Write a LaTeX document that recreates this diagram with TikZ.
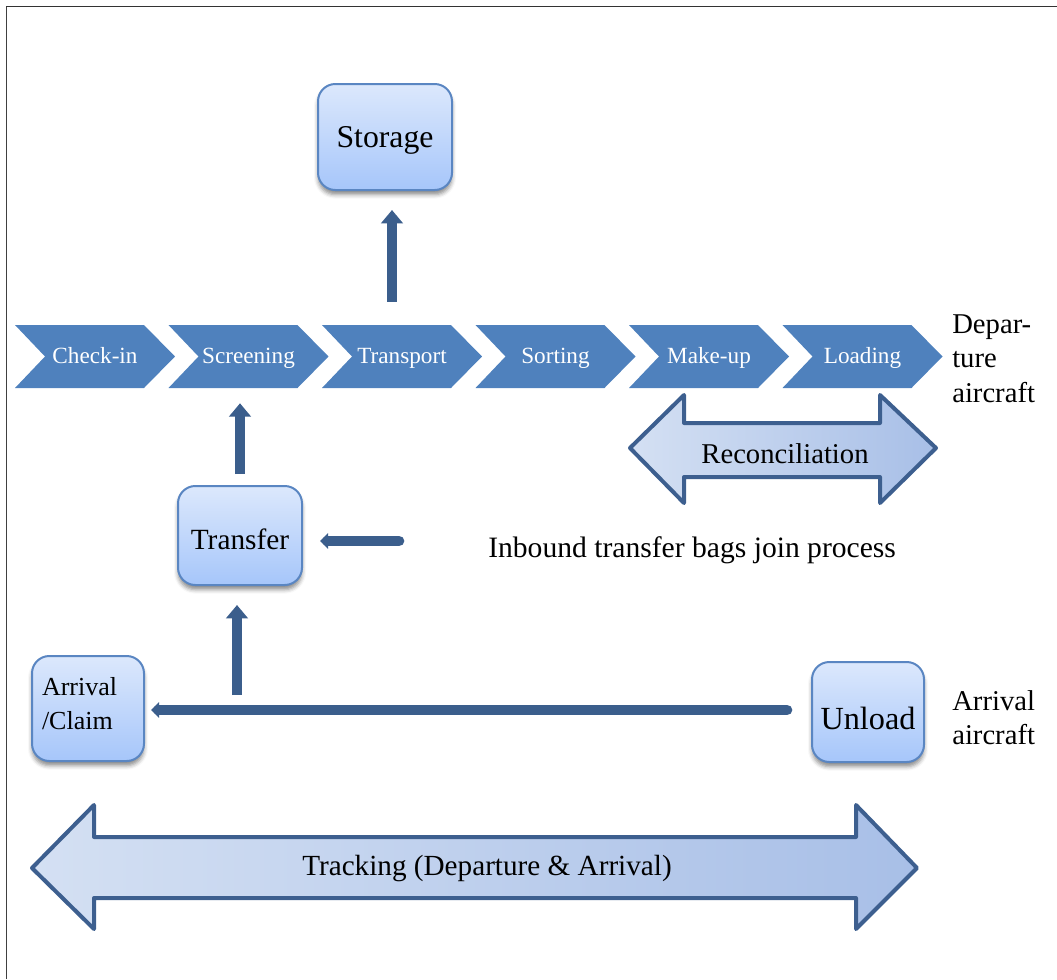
\documentclass[tikz,border=0pt]{standalone}
\usepackage{fontspec}
\setmainfont{Liberation Serif}
\usetikzlibrary{shadows.blur,arrows.meta}

\definecolor{chevblue}{HTML}{4F81BD}
\definecolor{arrowblue}{HTML}{3B5E8C}
\definecolor{boxtop}{HTML}{DCE8FC}
\definecolor{boxbot}{HTML}{A6C6FA}
\definecolor{boxline}{HTML}{5A86C2}
\definecolor{dblline}{HTML}{3D5F8F}
\definecolor{dblleft}{HTML}{D4E0F3}
\definecolor{dblright}{HTML}{A8BFE7}

\newcommand{\lowered}[2]{\raisebox{#1}[\height][\depth]{#2}}

\tikzset{
  stage/.style={minimum width=120pt, minimum height=47.25pt, inner sep=0pt,
    text height=13.9pt, text depth=3.5pt,
    text=white, font=\fontsize{17.4}{19}\selectfont},
  station/.style={draw=boxline, line width=1.5pt, rounded corners=13pt,
    top color=boxtop, bottom color=boxbot, inner sep=0pt,
    blur shadow={shadow xshift=0pt, shadow yshift=-3.5pt,
      shadow blur radius=3pt, shadow opacity=45}},
  flow/.style={draw=arrowblue, line width=7.5pt,
    -{Triangle[width=16pt, length=10pt]}},
  feed/.style={draw=arrowblue, line width=8pt, line cap=round,
    -{Triangle[width=11.5pt, length=6pt]}},
  bigarrow/.style={draw=dblline, line width=3pt, line join=round,
    left color=dblleft, right color=dblright},
  tag/.style={inner sep=0pt, font=\fontsize{21.5}{26}\selectfont, align=left},
}

\begin{document}
\begin{tikzpicture}[x=0.75pt, y=-0.75pt]
\useasboundingbox (0,0) rectangle (1057,979);

% frame
\draw[black!75, line width=1.4pt] (6.5,979) -- (6.5,6.5);
\draw[black!80, line width=0.9pt] (6,6.2) -- (1057,6.2);

% process chain: chevron body first, then its label on top
\foreach \x/\t [count=\i] in {95/Check-in, 248.5/Screening, 402/Transport,
    555.5/Sorting, 709/Make-up, 862.5/Loading}{
  \fill[chevblue] (\x-80,325) -- (\x+49,325) -- (\x+80,356.5) -- (\x+49,388)
    -- (\x-80,388) -- (\x-50,356.5) -- cycle;
  \node[stage] (c\i) at (\x,356.5) {\t};
}

% stations
\node[station, minimum width=100.5pt, minimum height=79.5pt,
  font=\fontsize{23.8}{26}\selectfont] (storage) at (385,137)
  {\lowered{-2.2pt}{Storage}};
\node[station, minimum width=93pt, minimum height=74.25pt,
  font=\fontsize{22}{24}\selectfont] (transfer) at (240,535.5)
  {\lowered{-3pt}{Transfer}};
\node[station, minimum width=84pt, minimum height=78.75pt, text width=69pt,
  align=left, font=\fontsize{19.5}{25.5}\selectfont] (claim) at (88,708.5)
  {\lowered{3.8pt}{Arrival}\\\lowered{3.8pt}{/Claim}};
\node[station, minimum width=84pt, minimum height=75pt,
  font=\fontsize{24.2}{26}\selectfont] (unload) at (868,712)
  {\lowered{-4.5pt}{Unload}};

% side labels
\node[tag, anchor=north west] (dep) at (952,314) {Depar-\\ture\\aircraft};
\node[tag, anchor=north west] (arr) at (952,690) {Arrival\\aircraft};
\node[tag, anchor=west, font=\fontsize{22.2}{25.5}\selectfont] (inbound)
  at (488,550) {Inbound transfer bags join process};

% reconciliation and tracking
\path[bigarrow] (630,448) -- (684,395) -- (684,423) -- (880,423) -- (880,395)
  -- (936,448) -- (880,503) -- (880,477) -- (684,477) -- (684,503) -- cycle;
\node[tag] (recon) at (785,454) {Reconciliation};
\path[bigarrow] (32,868) -- (94,805) -- (94,837) -- (856,837) -- (856,805)
  -- (917,868) -- (856,929) -- (856,898) -- (94,898) -- (94,929) -- cycle;
\node[tag, font=\fontsize{21.9}{25.5}\selectfont] (track) at (487,869)
  {Tracking (Departure \& Arrival)};

% bag flows
\coordinate (inb) at (399,541);
\coordinate (split) at (237,695);
\draw[flow] ([shift={(-10,-23)}]c3.north) -- ([shift={(7,19)}]storage.south);
\draw[flow] ([shift={(0,-11)}]transfer.north) -- ([shift={(-8.5,15)}]c2.south);
\draw[flow] (split) -- ([shift={(-3,19)}]transfer.south);
\draw[feed] (inb) -- ([shift={(17,5.5)}]transfer.east);
\draw[feed] ([shift={(-24,-2)}]unload.west) -- ([shift={(6,1.5)}]claim.east);
\end{tikzpicture}
\end{document}
